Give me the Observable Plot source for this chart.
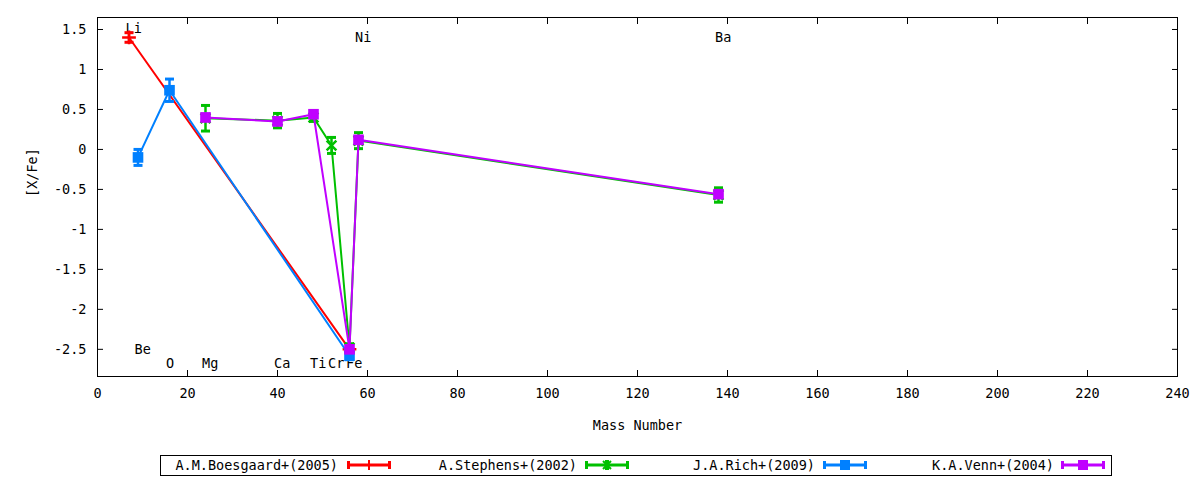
<!DOCTYPE html>
<html>
<head>
<meta charset="utf-8">
<script src="https://cdn.jsdelivr.net/npm/d3@7"></script>
<script src="https://cdn.jsdelivr.net/npm/@observablehq/plot@0.6"></script>
<style>
  body { margin: 0; background: #fff; font-family: "DejaVu Sans Mono", monospace; }
  #chart svg { display: block; }
  #legend { position: relative; width: 1200px; height: 35px; font-family: "DejaVu Sans Mono", monospace; font-size: 13.5px; }
  #legend .box { position: absolute; left: 160px; top: 10px; width: 950px; height: 19px; border: 1px solid #000; }
  #legend .txt { position: absolute; top: 11px; line-height: 18px; text-align: right; white-space: nowrap; }
  #legend svg { position: absolute; top: 14px; }
</style>
</head>
<body>
<div id="chart"></div>
<div id="legend"></div>
<script>
// ---- data ----
const seriesNames = ["A.M.Boesgaard+(2005)", "A.Stephens+(2002)", "J.A.Rich+(2009)", "K.A.Venn+(2004)"];
const seriesColors = ["#ff0000", "#00c000", "#0080ff", "#c000ff"];
const seriesSymbols = ["plus", "times", "square", "square"];

const boesgaardMass = [7, 56];
const boesgaardVal  = [1.40, -2.50];
const boesgaardErr  = [0.06, 0.05];

const stephensMass = [24, 40, 48, 52, 56, 58, 138];
const stephensVal  = [0.39, 0.36, 0.40, 0.05, -2.48, 0.11, -0.57];
const stephensErr  = [0.16, 0.09, 0.05, 0.10, 0.05, 0.10, 0.09];

const richMass = [9, 16, 56];
const richVal  = [-0.10, 0.74, -2.58];
const richErr  = [0.10, 0.14, 0.05];

const vennMass = [24, 40, 48, 56, 58, 138];
const vennVal  = [0.40, 0.35, 0.44, -2.50, 0.12, -0.56];
const vennErr  = [0.04, 0.04, 0.04, 0.04, 0.04, 0.04];

const elementNames  = ["Li", "Be", "O", "Mg", "Ca", "Ti", "Cr", "Fe", "Ni", "Ba"];
const elementMass   = [7, 9, 16, 24, 40, 48, 52, 56, 58, 138];
const elementLabelY = [1.51, -2.50, -2.675, -2.675, -2.675, -2.675, -2.675, -2.675, 1.40, 1.40];

const xTicks = d3.range(0, 241, 20);
const yTicks = [-2.5, -2, -1.5, -1, -0.5, 0, 0.5, 1, 1.5];
const xDomain = [0, 240];
const yDomain = [-2.84, 1.65];

// ---- build tables ----
const seriesData = [
  [boesgaardMass, boesgaardVal, boesgaardErr],
  [stephensMass, stephensVal, stephensErr],
  [richMass, richVal, richErr],
  [vennMass, vennVal, vennErr]
].map(([m, v, e], i) => m.map((mass, j) => ({series: seriesNames[i], mass, value: v[j], err: e[j]})));

const labels = elementNames.map((name, i) => ({name, mass: elementMass[i], y: elementLabelY[i]}));

const capSymbol = { draw(ctx, size) { const r = Math.sqrt(size / Math.PI); ctx.moveTo(-r, 0); ctx.lineTo(r, 0); } };

const marks = [];
seriesData.forEach((rows, i) => {
  const c = seriesColors[i];
  marks.push(Plot.ruleX(rows, {x: "mass", y1: d => d.value - d.err, y2: d => d.value + d.err, stroke: c, strokeWidth: 2.5}));
  marks.push(Plot.dot(rows, {x: "mass", y: d => d.value + d.err, symbol: capSymbol, r: 4.5, stroke: c, strokeWidth: 3}));
  marks.push(Plot.dot(rows, {x: "mass", y: d => d.value - d.err, symbol: capSymbol, r: 4.5, stroke: c, strokeWidth: 3}));
  marks.push(Plot.line(rows, {x: "mass", y: "value", stroke: c, strokeWidth: 2}));
  if (seriesSymbols[i] === "square") {
    marks.push(Plot.dot(rows, {x: "mass", y: "value", symbol: "square", r: 6, fill: c, stroke: "none"}));
  } else {
    marks.push(Plot.dot(rows, {x: "mass", y: "value", symbol: seriesSymbols[i], r: 4.5, stroke: c, strokeWidth: 2.5}));
  }
});

const fmt = d => String(d);

const plot = Plot.plot({
  width: 1200,
  height: 445,
  marginLeft: 97,
  marginRight: 23,
  marginTop: 17,
  marginBottom: 69,
  style: {fontFamily: "DejaVu Sans Mono", fontSize: "13.5px", color: "#000", background: "#fff"},
  x: {domain: xDomain},
  y: {domain: yDomain},
  marks: [
    Plot.axisX({anchor: "bottom", ticks: xTicks, tickSize: -6, tickPadding: 18, tickFormat: fmt, label: null}),
    Plot.axisX({anchor: "top", ticks: xTicks, tickSize: -6, tickFormat: () => "", label: null}),
    Plot.axisY({anchor: "left", ticks: yTicks, tickSize: -6, tickPadding: 17, tickFormat: fmt, label: null}),
    Plot.axisY({anchor: "right", ticks: yTicks, tickSize: -6, tickFormat: () => "", label: null}),
    Plot.text(labels, {x: "mass", y: "y", text: "name", textAnchor: "start", dx: -3.5, fill: "#000"}),
    ...marks,
    Plot.frame({stroke: "#000"}),
    Plot.text(["Mass Number"], {frameAnchor: "bottom", dy: 53, fill: "#000"}),
    Plot.text(["[X/Fe]"], {frameAnchor: "left", dx: -65, rotate: -90, fill: "#000"})
  ]
});
document.getElementById("chart").appendChild(plot);

// ---- legend ----
const legend = d3.select("#legend");
legend.append("div").attr("class", "box");
const textRight = [338, 577, 815, 1054];
const sampleLeft = [347, 585, 823, 1061];
seriesNames.forEach((name, i) => {
  legend.append("div").attr("class", "txt")
    .style("right", (1200 - textRight[i]) + "px")
    .text(name);
  const c = seriesColors[i];
  const s = legend.append("svg").attr("width", 45).attr("height", 12)
    .style("left", sampleLeft[i] + "px");
  s.append("line").attr("x1", 1.5).attr("x2", 42.5).attr("y1", 6).attr("y2", 6).attr("stroke", c).attr("stroke-width", 3);
  s.append("line").attr("x1", 1.5).attr("x2", 1.5).attr("y1", 2).attr("y2", 10).attr("stroke", c).attr("stroke-width", 3);
  s.append("line").attr("x1", 42.5).attr("x2", 42.5).attr("y1", 2).attr("y2", 10).attr("stroke", c).attr("stroke-width", 3);
  if (seriesSymbols[i] === "square") {
    s.append("rect").attr("x", 17).attr("y", 1).attr("width", 10).attr("height", 10).attr("fill", c);
  } else if (seriesSymbols[i] === "plus") {
    s.append("line").attr("x1", 22).attr("x2", 22).attr("y1", 1).attr("y2", 11).attr("stroke", c).attr("stroke-width", 2);
  } else {
    s.append("path").attr("d", "M18,2L26,10M18,10L26,2M21,1V11M23,1V11").attr("stroke", c).attr("stroke-width", 2).attr("fill", "none");
  }
});
</script>
</body>
</html>
